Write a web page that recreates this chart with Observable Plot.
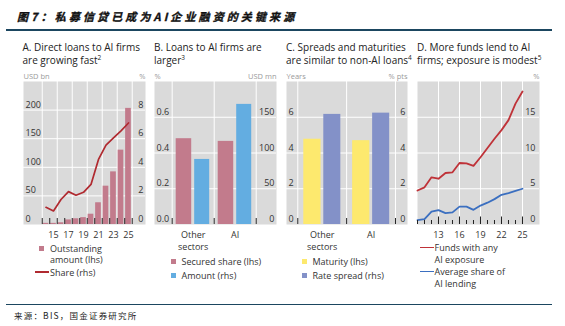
<!DOCTYPE html>
<html lang="zh">
<head>
<meta charset="utf-8">
<script src="https://cdn.jsdelivr.net/npm/d3@7"></script>
<script src="https://cdn.jsdelivr.net/npm/@observablehq/plot@0.6"></script>
<style>
  html, body { margin: 0; padding: 0; background: #fff; }
  #chart { position: relative; width: 565px; height: 326px; overflow: hidden; font-family: "Open Sans", sans-serif; color: #222; }
  #chart > div { position: absolute; white-space: nowrap; }
  .title { left: 17px; top: 6px; font: italic 700 11px/20px "Noto Sans CJK SC", sans-serif; letter-spacing: 3.1px; color: #111; -webkit-text-stroke: 0.35px #111; }
  .rule { left: 6px; width: 546px; height: 1.5px; background: #1b4660; }
  .ptitle { top: 40.5px; font-size: 10px; line-height: 13.5px; color: #222; }
  .ptitle sup { font-size: 6.5px; vertical-align: 0; position: relative; top: -4px; }
  .leg { font-size: 9px; line-height: 11.5px; color: #333; }
  .src { left: 14px; top: 308px; font: 8.5px/14px "Noto Sans CJK SC", sans-serif; letter-spacing: 1.2px; color: #222; }
  svg g[aria-label="y-axis label"] text { font-size: 7.5px; fill: #9a9a9a; }
</style>
</head>
<body>
<div id="chart">
  <div class="title">图7：私募信贷已成为AI企业融资的关键来源</div>
  <div class="rule" style="top:29px"></div>
  <div class="ptitle" style="left:22.5px">A. Direct loans to AI firms<br>are growing fast<sup>2</sup></div>
  <div class="ptitle" style="left:154px">B. Loans to AI firms are<br>larger<sup>3</sup></div>
  <div class="ptitle" style="left:286px">C. Spreads and maturities<br>are similar to non-AI loans<sup>4</sup></div>
  <div class="ptitle" style="left:417px">D. More funds lend to AI<br>firms; exposure is modest<sup>5</sup></div>
  <div class="rule" style="top:303.5px"></div>
  <div class="src">来源：BIS，国金证券研究所</div>
</div>
<script>
// ---- Panel A: direct loans to AI firms (USD bn, lhs) and share (%, rhs)
const aYears = [2014, 2015, 2016, 2017, 2018, 2019, 2020, 2021, 2022, 2023, 2024, 2025];
const aAmount = [2, 2, 3, 8, 10, 12, 18, 38, 67, 92, 130, 203];
const aShare = [1.2, 0.95, 1.75, 2.3, 2.05, 2.25, 2.8, 4.55, 5.55, 6.05, 6.55, 7.1];
const aAmountTicks = [0, 50, 100, 150, 200];
const aShareTicks = [0, 2, 4, 6, 8];
const aYearLabels = [2015, 2017, 2019, 2021, 2023, 2025];

// ---- Panel B: secured share (%, lhs) and loan amount (USD mn, rhs)
const bCategories = ["Other sectors", "AI"];
const bSecured = [0.48, 0.465];
const bAmount = [91, 168];
const bSecuredTicks = [0, 0.2, 0.4, 0.6];
const bAmountTicks = [0, 50, 100, 150];

// ---- Panel C: maturity (years, lhs) and rate spread (% pts, rhs)
const cCategories = ["Other sectors", "AI"];
const cMaturity = [4.77, 4.69];
const cSpread = [6.16, 6.23];
const cMaturityTicks = [0, 2, 4, 6];
const cSpreadTicks = [0, 2, 4, 6];

// ---- Panel D: funds with any AI exposure and average share of AI lending (%)
const dYears = [2010, 2011, 2012, 2013, 2014, 2015, 2016, 2017, 2018, 2019, 2020, 2021, 2022, 2023, 2024, 2025];
const dFunds = [4.75, 5.2, 6.6, 6.4, 7.2, 7.3, 8.6, 8.55, 8.2, 9.4, 10.7, 12.0, 13.2, 14.6, 16.9, 18.6];
const dShare = [0.6, 0.75, 1.8, 2.0, 1.6, 1.7, 2.5, 2.5, 2.05, 2.65, 3.05, 3.55, 4.15, 4.4, 4.7, 5.0];
const dTicks = [0, 5, 10, 15];
const dYearLabels = [2013, 2016, 2019, 2022, 2025];

// ---- Colours
const GRAY = "#dadada", TICK = "#222";
const PINK = "#c27b8c", RED_A = "#b02a30";
const BLUE_B = "#63ade1";
const YELLOW = "#fde96e", PURPLE = "#8391c8";
const RED_D = "#bf3238", BLUE_D = "#3b6fc0";

// ---- Layout shared by the four panels (page pixels)
const SVG_TOP = 70, SVG_H = 182, FRAME_TOP = 81, FRAME_BOTTOM = 224;
const FRAME_H = FRAME_BOTTOM - FRAME_TOP;
const chart = document.getElementById("chart");

function panel(left, right, spec) {
  const svg = Plot.plot({
    width: right - left + 6,
    height: SVG_H,
    marginTop: FRAME_TOP - SVG_TOP,
    marginBottom: SVG_TOP + SVG_H - FRAME_BOTTOM,
    marginLeft: 3,
    marginRight: 3,
    style: {background: "transparent", fontFamily: "'Open Sans', sans-serif", fontSize: "9px", color: "#333", overflow: "visible"},
    ...spec
  });
  svg.style.position = "absolute";
  svg.style.left = (left - 3) + "px";
  svg.style.top = SVG_TOP + "px";
  chart.append(svg);
}

const leftAxis = (ticks, label, tickFormat) => Plot.axisY(ticks, {
  anchor: "left", tickSize: 0, tickPadding: 0, textAnchor: "start", lineAnchor: "bottom",
  dx: 2, dy: -2.5, tickFormat, label, labelArrow: "none"
});
const rightAxis = (ticks, label, tickFormat, dx = -2) => Plot.axisY(ticks, {
  anchor: "right", tickSize: 0, tickPadding: 0, textAnchor: "end", lineAnchor: "bottom",
  dx, dy: -2.5, tickFormat, label, labelArrow: "none"
});
const bottomAxis = (ticks, tickFormat) => Plot.axisX(ticks, {
  anchor: "bottom", tickSize: 0, tickPadding: 5, tickFormat, label: null, lineHeight: 1.33
});
const whiteGridY = (ticks) => Plot.gridY(ticks, {stroke: "white", strokeOpacity: 1, strokeWidth: 1});
const background = () => Plot.frame({fill: GRAY, stroke: "none"});
const shortYear = (d) => String(d).slice(2);

// ---------- Panel A
const aRows = aYears.map((year, i) => ({year, amount: aAmount[i], share: aShare[i]}));
const aEdges = aYears.map((y) => y - 0.5).concat(aYears[aYears.length - 1] + 0.5);
const aGridX = aEdges.filter((e) => (e + 0.5) % 2 === 0);
const aX = {domain: [2011, 2027.27]};

panel(23, 145, {
  x: aX,
  y: {domain: [0, 250]},
  marks: [
    background(),
    whiteGridY(aAmountTicks.slice(1)),
    Plot.ruleX(aGridX, {stroke: "white", strokeWidth: 1}),
    Plot.rectY(aRows, {x1: (d) => d.year - 0.5, x2: (d) => d.year + 0.5, y: "amount", fill: PINK, insetLeft: 0.9, insetRight: 0.9}),
    Plot.ruleX(aEdges, {stroke: TICK, insetTop: FRAME_H - 6}),
    leftAxis(aAmountTicks, "USD bn"),
    bottomAxis(aYearLabels, shortYear)
  ]
});
panel(23, 145, {
  x: {...aX, axis: null},
  y: {domain: [0, 10]},
  marks: [
    Plot.line(aRows, {x: "year", y: "share", stroke: RED_A, strokeWidth: 1.7}),
    rightAxis(aShareTicks, "%")
  ]
});

// ---------- Panel B
const bRows = bCategories.map((category, i) => ({category, slot: i, secured: bSecured[i], amount: bAmount[i]}));
const bEdges = d3.range(bCategories.length + 1);
const bX = {domain: [-0.421, 2.483]};
const categoryLabel = (cats) => (v) => cats[Math.floor(v)].replace(" ", "\n");

panel(154, 276, {
  x: bX,
  y: {domain: [0, 0.8]},
  marks: [
    background(),
    whiteGridY(bSecuredTicks.slice(1)),
    Plot.ruleX(bEdges, {stroke: "white", strokeWidth: 1}),
    Plot.rectY(bRows, {x1: "slot", x2: (d) => d.slot + 1, y: "secured", fill: PINK, insetLeft: 4, insetRight: 22.5}),
    Plot.ruleX(bEdges, {stroke: TICK, insetTop: FRAME_H - 6}),
    leftAxis(bSecuredTicks, "%", d3.format(".1f")),
    bottomAxis(bRows.map((d) => d.slot + 0.5), categoryLabel(bCategories))
  ]
});
panel(154, 276, {
  x: {...bX, axis: null},
  y: {domain: [0, 200]},
  marks: [
    Plot.rectY(bRows, {x1: "slot", x2: (d) => d.slot + 1, y: "amount", fill: BLUE_B, insetLeft: 22.5, insetRight: 4.5}),
    rightAxis(bAmountTicks, "USD mn")
  ]
});

// ---------- Panel C
const cRows = cCategories.map((category, i) => ({category, slot: i, maturity: cMaturity[i], spread: cSpread[i]}));
const cEdges = d3.range(cCategories.length + 1);
const cX = {domain: [-0.231, 2.246]};

panel(286, 407, {
  x: cX,
  y: {domain: [0, 8]},
  marks: [
    background(),
    whiteGridY(cMaturityTicks.slice(1)),
    Plot.ruleX(cEdges, {stroke: "white", strokeWidth: 1}),
    Plot.rectY(cRows, {x1: "slot", x2: (d) => d.slot + 1, y: "maturity", fill: YELLOW, insetLeft: 6, insetRight: 25.6}),
    Plot.ruleX(cEdges, {stroke: TICK, insetTop: FRAME_H - 6}),
    leftAxis(cMaturityTicks, "Years"),
    bottomAxis(cRows.map((d) => d.slot + 0.5), categoryLabel(cCategories))
  ]
});
panel(286, 407, {
  x: {...cX, axis: null},
  y: {domain: [0, 8]},
  marks: [
    Plot.rectY(cRows, {x1: "slot", x2: (d) => d.slot + 1, y: "spread", fill: PURPLE, insetLeft: 26, insetRight: 5.8}),
    rightAxis(cSpreadTicks, "% pts")
  ]
});

// ---------- Panel D
const dRows = dYears.map((year, i) => ({year, funds: dFunds[i], share: dShare[i]}));

panel(417, 539, {
  x: {domain: [2010, 2027.43]},
  y: {domain: [0, 20]},
  marks: [
    background(),
    whiteGridY(dTicks.slice(1)),
    Plot.ruleX(dYearLabels, {stroke: "white", strokeWidth: 1}),
    Plot.line(dRows, {x: "year", y: "funds", stroke: RED_D, strokeWidth: 1.8}),
    Plot.line(dRows, {x: "year", y: "share", stroke: BLUE_D, strokeWidth: 1.8}),
    Plot.ruleX(dYears, {stroke: TICK, insetTop: FRAME_H - 4}),
    Plot.ruleX(dYearLabels, {stroke: TICK, insetTop: FRAME_H - 7.5}),
    rightAxis(dTicks, "%", undefined, -4),
    bottomAxis(dYearLabels, shortYear)
  ]
});

// ---------- Legends
function legendItem(left, top, kind, color, html, lineHeight = 11.5) {
  const mark = document.createElement("div");
  if (kind === "square") {
    Object.assign(mark.style, {left: left + "px", top: (top + lineHeight / 2 - 2.5) + "px", width: "5px", height: "5px", background: color});
  } else {
    Object.assign(mark.style, {left: left + "px", top: (top + lineHeight / 2 - 0.8) + "px", width: "14px", height: "1.6px", background: color});
  }
  chart.append(mark);
  const text = document.createElement("div");
  text.className = "leg";
  text.style.left = (left + (kind === "square" ? 11 : 15)) + "px";
  text.style.top = top + "px";
  text.style.lineHeight = lineHeight + "px";
  text.innerHTML = html;
  chart.append(text);
}
legendItem(39, 242.5, "square", PINK, "Outstanding<br>amount (lhs)");
legendItem(35, 266.5, "line", RED_A, "Share (rhs)");
legendItem(170.5, 256, "square", PINK, "Secured share (lhs)");
legendItem(170.5, 270, "square", BLUE_B, "Amount (rhs)");
legendItem(301.5, 256, "square", YELLOW, "Maturity (lhs)");
legendItem(301.5, 270, "square", PURPLE, "Rate spread (rhs)");
legendItem(419.5, 241.7, "line", RED_D, "Funds with any<br>AI exposure", 12);
legendItem(419.5, 265.7, "line", BLUE_D, "Average share of<br>AI lending", 12);
</script>
</body>
</html>
